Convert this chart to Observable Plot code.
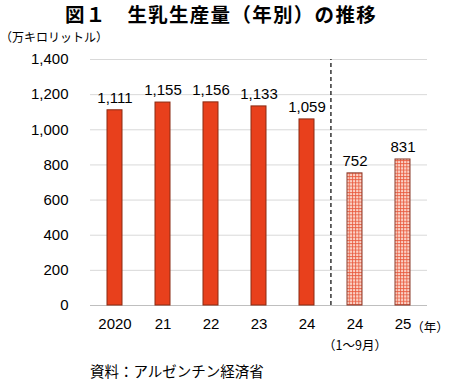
<!DOCTYPE html>
<html><head><meta charset="utf-8">
<script src="https://cdn.jsdelivr.net/npm/d3@7"></script>
<script src="https://cdn.jsdelivr.net/npm/@observablehq/plot@0.6"></script>
<style>
body{margin:0;background:#fff;}
#wrap{position:relative;width:450px;height:381px;font-family:"Noto Sans CJK JP",sans-serif;overflow:hidden;}
#wrap svg{position:absolute;left:0;top:0;}
.t{position:absolute;white-space:nowrap;color:#000;}
</style></head><body>
<div id="wrap">
<div class="t" style="left:-4px;width:450px;text-align:center;top:1px;font-size:19.5px;font-weight:bold;line-height:26px;letter-spacing:1.3px">図１　生乳生産量（年別）の推移</div>
<div class="t" style="left:0;top:29px;font-size:12px;line-height:16px">（万キロリットル）</div>
<div class="t" style="left:90px;top:362px;font-size:14.5px;line-height:18px">資料：アルゼンチン経済省</div>
</div>
<script>
const categories = ["2020", "21", "22", "23", "24", "24p", "25"];
const tickLabels = ["2020", "21", "22", "23", "24", "24", "25"];
const values = [1111, 1155, 1156, 1133, 1059, 752, 831];
const partial = [false, false, false, false, false, true, true];
const yTicks = [0, 200, 400, 600, 800, 1000, 1200, 1400];

const data = categories.map((c, i) => ({cat: c, value: values[i], partial: partial[i]}));

const W = 450, H = 381, mL = 90, mR = 23, mT = 59, mB = 76;
const step = (W - mL - mR) / categories.length;
const numFont = "'Liberation Sans', Arial, sans-serif";
const cjkFont = "'Noto Sans CJK JP', sans-serif";

const chart = Plot.plot({
  width: W, height: H,
  marginLeft: mL, marginRight: mR, marginTop: mT, marginBottom: mB,
  style: {fontFamily: numFont, background: "transparent", overflow: "visible"},
  x: {domain: categories, paddingInner: 0.68, paddingOuter: 0.34},
  y: {domain: [0, 1400]},
  marks: [
    Plot.gridY(yTicks.filter(d => d > 0), {stroke: "#d9d9d9", strokeOpacity: 1, strokeWidth: 1}),
    Plot.ruleY([0], {stroke: "#bfbfbf", strokeWidth: 1}),
    Plot.ruleX(["24p"], {dx: -step / 2, y1: 0, y2: 1400, stroke: "#000", strokeWidth: 1.2, strokeDasharray: "4,3"}),
    Plot.barY(data.filter(d => !d.partial), {x: "cat", y: "value", fill: "#e8401c", stroke: "#8a2a12", strokeWidth: 1}),
    Plot.barY(data.filter(d => d.partial), {x: "cat", y: "value", fill: "url(#milkgrid)", stroke: "#8a3a2a", strokeWidth: 1}),
    Plot.text(data, {x: "cat", y: "value", text: d => d3.format(",")(d.value), dy: -12, fontSize: 15, fill: "#000"}),
    Plot.axisY({ticks: yTicks, tickSize: 0, tickPadding: 22, fontSize: 15, tickFormat: d3.format(","), label: null}),
    Plot.axisX({tickSize: 0, tickPadding: 13, fontSize: 15, tickFormat: (d, i) => tickLabels[categories.indexOf(d)], label: null}),
    Plot.text(["（1〜9月）"], {x: () => "24p", y: () => 0, dy: 40, text: d => d, fontSize: 12.5, fontFamily: cjkFont, fill: "#000"}),
    Plot.text(["（年）"], {x: () => "25", y: () => 0, dy: 22, dx: 27, textAnchor: "middle", text: d => d, fontSize: 12.5, fontFamily: cjkFont, fill: "#000"})
  ]
});

const ns = "http://www.w3.org/2000/svg";
const defs = document.createElementNS(ns, "defs");
defs.innerHTML = `<pattern id="milkgrid" width="3.2" height="3.2" patternUnits="userSpaceOnUse">
  <rect width="3.2" height="3.2" fill="#fbd2c6"></rect>
  <path d="M0 0.5H3.2M0.5 0V3.2" stroke="#e8583a" stroke-width="0.8" fill="none"></path>
</pattern>`;
chart.insertBefore(defs, chart.firstChild);
document.getElementById("wrap").prepend(chart);
</script>
</body></html>
